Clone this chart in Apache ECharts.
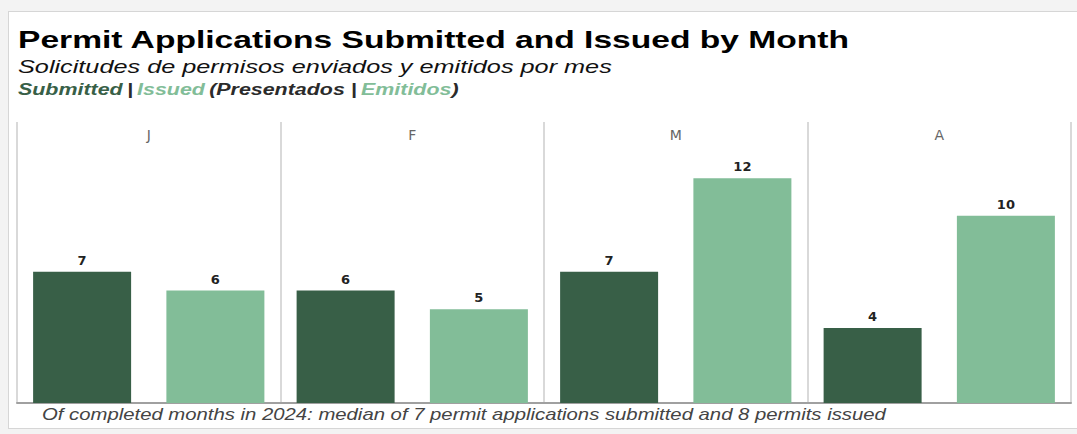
<!DOCTYPE html>
<html>
<head>
<meta charset="utf-8">
<script src="https://cdn.jsdelivr.net/npm/echarts@6/dist/echarts.min.js"></script>
<style>
html,body{margin:0;padding:0;background:#f3f3f3;width:1077px;height:434px;overflow:hidden;}
#card{position:absolute;left:8px;top:11px;width:1080px;height:418px;background:#fff;border:1px solid #d6d6d6;box-sizing:border-box;}
#chart{position:absolute;left:0;top:0;width:1077px;height:434px;}
</style>
</head>
<body>
<div id="card"></div>
<div id="chart"></div>
<script>
const months = ['J', 'F', 'M', 'A'];
const submitted = [7, 6, 7, 4];
const issued = [6, 5, 12, 10];
const titleText = 'Permit Applications Submitted and Issued by Month';
const subtitleText = 'Solicitudes de permisos enviados y emitidos por mes';
const footnoteText = 'Of completed months in 2024: median of 7 permit applications submitted and 8 permits issued';

const DARK = '#385f47';
const LIGHT = '#82bd98';
const FONT = 'Liberation Sans, Arial, sans-serif';

const chart = echarts.init(document.getElementById('chart'), null, {renderer: 'svg'});
const labelStyle = {show: true, position: 'top', distance: 5, fontFamily: 'DejaVu Sans', fontWeight: 'bold', fontSize: 13, color: '#222'};
chart.setOption({
  animation: false,
  grid: {left: 17, right: 6, top: 122, bottom: 31},
  xAxis: [
    {type: 'category', data: months, position: 'bottom',
     axisLine: {show: true, lineStyle: {color: '#a0a0a0', width: 2}},
     axisTick: {show: false}, axisLabel: {show: false},
     splitLine: {show: true, lineStyle: {color: '#d9d9d9', width: 2}}},
    {type: 'category', data: months, position: 'top',
     axisLine: {show: false}, axisTick: {show: false},
     axisLabel: {show: true, inside: true, margin: 6, fontFamily: 'DejaVu Sans', fontSize: 14, color: '#666'}}
  ],
  yAxis: {type: 'value', min: 0, max: 15, show: false},
  series: [
    {type: 'bar', data: submitted, barWidth: 98, barGap: '36%', itemStyle: {color: DARK}, label: labelStyle},
    {type: 'bar', data: issued, barWidth: 98, barGap: '36%', itemStyle: {color: LIGHT}, label: labelStyle}
  ],
  graphic: [
    {type: 'text', x: 18, y: 28, scaleX: 1.4, style: {text: titleText, font: 'bold 24px ' + FONT, fill: '#000', verticalAlign: 'top'}},
    {type: 'text', x: 18, y: 57, scaleX: 1.33, style: {text: subtitleText, font: 'italic 19px ' + FONT, fill: '#111', verticalAlign: 'top'}},
    {type: 'text', x: 18, y: 81, scaleX: 1.26, style: {
      text: '{a|Submitted} {d||} {b|Issued} {d|(Presentados |} {b|Emitidos}{d|)}',
      verticalAlign: 'top',
      rich: {
        a: {fill: DARK, font: 'italic bold 17px ' + FONT},
        b: {fill: LIGHT, font: 'italic bold 17px ' + FONT},
        d: {fill: '#2b2b2b', font: 'italic bold 17px ' + FONT}
      }
    }},
    {type: 'text', x: 42, y: 406, scaleX: 1.27, style: {text: footnoteText, font: 'italic 16px ' + FONT, fill: '#444', verticalAlign: 'top'}}
  ]
});
</script>
</body>
</html>
